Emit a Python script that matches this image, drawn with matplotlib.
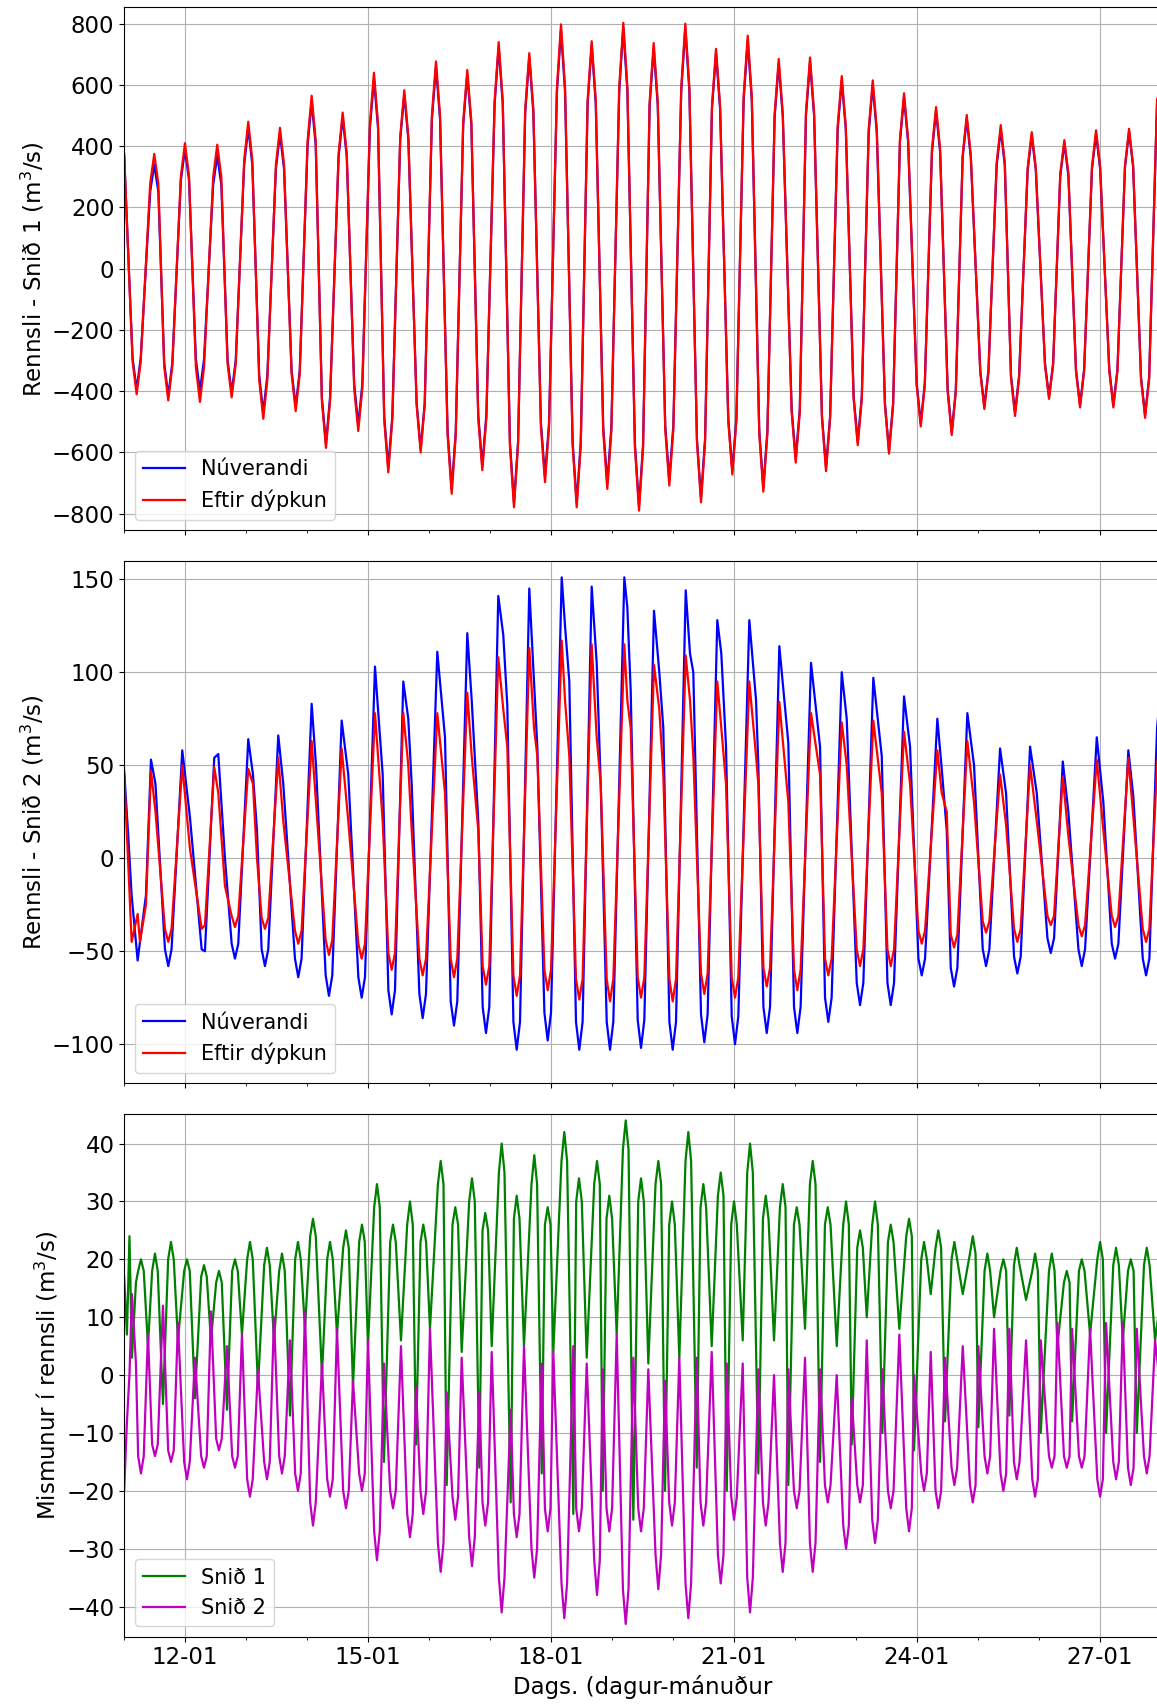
import matplotlib
matplotlib.use("Agg")
import matplotlib.pyplot as plt
import matplotlib.dates as mdates
from matplotlib.ticker import MultipleLocator
import numpy as np
import pandas as pd

matplotlib.rcParams.update({"font.size": 16.5})

t0 = pd.Timestamp("2021-01-11 00:00")

# --- Snið 1: flow, extremes (hours after 11-01 00:00) ---
h1 = [0, 4.92, 11.85, 17.36, 23.93, 29.83, 36.64, 42.31, 48.84, 54.75, 61.32, 67.5,
      73.79, 79.42, 86.0, 92.13, 98.31, 103.94, 110.24, 116.69, 122.71, 128.89, 135.03,
      140.94, 147.39, 153.41, 159.43, 165.61, 171.91, 178.09, 183.99, 190.13, 196.43,
      202.61, 208.39, 214.53, 220.83, 227.01, 232.92, 239.33, 245.39, 251.53, 257.59,
      264.28, 269.91, 276.21, 282.39, 288.68, 294.59, 301.0, 306.9, 313.48, 319.5,
      325.68, 331.58, 338.51, 344.96, 350.59, 357.16, 363.97, 369.99, 376.17, 382.47,
      389.28, 395.46, 401.76, 406.48, 408.44]
snid1_nu = [370, -395, 340, -415, 390, -400, 370, -405, 460, -470, 440, -450,
            545, -570, 495, -510, 620, -650, 570, -590, 660, -720, 635,
            -645, 725, -765, 690, -680, 780, -765, 730, -700, 785,
            -775, 720, -690, 785, -750, 705, -660, 745, -715, 670,
            -620, 675, -650, 615, -565, 600, -595, 560, -505, 515,
            -535, 490, -450, 455, -470, 435, -418, 410, -445, 440,
            -445, 448, -478, 540, 585]
snid1_eftir = [375, -410, 375, -430, 410, -435, 405, -420, 480, -490, 460, -465,
               565, -585, 510, -530, 640, -665, 583, -600, 677, -735, 649,
               -658, 740, -779, 704, -697, 798, -779, 743, -719, 803,
               -790, 737, -708, 800, -763, 718, -672, 761, -728, 685,
               -633, 690, -661, 629, -576, 615, -604, 573, -515, 528,
               -543, 502, -458, 469, -481, 446, -425, 420, -453, 452,
               -453, 457, -487, 553, 600]
# flanks of each peak/trough (rounded crests): times in pairs, one level per crest
h1_flank = [3.32, 6.52, 10.25, 13.45, 15.76, 18.96, 22.33, 25.53, 28.23, 31.43,
            35.04, 38.24, 40.71, 43.91, 47.24, 50.44, 53.15, 56.35, 59.72, 62.92,
            65.9, 69.1, 72.19, 75.39, 77.82, 81.02, 84.4, 87.6, 90.53, 93.73,
            96.71, 99.91, 102.34, 105.54, 108.64, 111.84, 115.09, 118.29, 121.11, 124.31,
            127.29, 130.49, 133.43, 136.63, 139.34, 142.54, 145.79, 148.99, 151.81, 155.01,
            157.83, 161.03, 164.01, 167.21, 170.31, 173.51, 176.49, 179.69, 182.39, 185.59,
            188.53, 191.73, 194.83, 198.03, 201.01, 204.21, 206.79, 209.99, 212.93, 216.13,
            219.23, 222.43, 225.41, 228.61, 231.32, 234.52, 237.73, 240.93, 243.79, 246.99,
            249.93, 253.13, 255.99, 259.19, 262.68, 265.88, 268.31, 271.51, 274.61, 277.81,
            280.79, 283.99, 287.08, 290.28, 292.99, 296.19, 299.4, 302.6, 305.3, 308.5,
            311.88, 315.08, 317.9, 321.1, 324.08, 327.28, 329.98, 333.18, 336.91, 340.11,
            343.36, 346.56, 348.99, 352.19, 355.56, 358.76, 362.37, 365.57, 368.39, 371.59,
            374.57, 377.77, 380.87, 384.07, 387.68, 390.88, 393.86, 397.06, 400.16, 403.36]
snid1_nu_flank = [-292, 252, -307, 289, -296, 274, -300, 340, -348, 326, -333,
                  403, -422, 366, -377, 459, -481, 422, -437, 488, -533, 470,
                  -477, 537, -566, 511, -503, 577, -566, 540, -518, 581,
                  -574, 533, -511, 581, -555, 522, -488, 551, -529, 496,
                  -459, 500, -481, 455, -418, 444, -440, 414, -374, 381,
                  -396, 363, -333, 337, -348, 322, -309, 303, -329, 326,
                  -329, 332, -354]
snid1_eftir_flank = [-303, 278, -318, 303, -322, 300, -311, 355, -363, 340, -344,
                     418, -433, 377, -392, 474, -492, 431, -444, 501, -544, 480,
                     -487, 548, -576, 521, -516, 591, -576, 550, -532, 594,
                     -585, 545, -524, 592, -565, 531, -497, 563, -539, 507,
                     -468, 511, -489, 465, -426, 455, -447, 424, -381, 391,
                     -402, 371, -339, 347, -356, 330, -315, 311, -335, 334,
                     -335, 338, -360]

# --- Snið 2: flow ---
h2 = [0, 1.61, 2.95, 5.31, 6.22, 8.58, 10.55, 12.32, 17.36, 22.87, 25.90, 30.50, 31.80,
      35.46, 37.04, 39.67, 43.61, 48.84, 50.69, 52.27, 55.41, 60.65, 62.62, 68.52, 73.79,
      75.49, 80.60, 85.60, 88.20, 93.47, 98.71, 101.74, 105.28, 109.85, 111.81, 113.15,
      117.48, 123.23, 126.26, 129.80, 135.03, 136.77, 139.36, 142.39, 147.23, 149.20,
      150.78, 154.48, 159.43, 161.29, 162.59, 166.68, 172.19, 173.49, 175.18, 179.11,
      183.99, 185.96, 187.54, 191.20, 196.83, 198.01, 199.34, 203.40, 208.51, 210.60,
      212.17, 215.87, 220.99, 222.68, 223.98, 228.31, 233.42, 235.0, 236.85, 240.39,
      246.02, 248.66, 249.56, 252.87, 257.83, 261.37, 264.91, 270.30, 273.85, 277.11,
      282.39, 284.35, 289.59, 294.82, 298.13, 301.67, 306.90, 309.27, 313.87, 320.01,
      321.74, 323.71, 326.59, 331.82, 334.45, 339.18, 344.69, 347.05, 351.50, 356.50,
      359.13, 364.64, 369.37, 371.57, 376.84, 382.75, 385.34, 389.95, 395.18, 397.15,
      402.15, 406.48, 408.44]
snid2_nu = [47, 12, -20, -55, -45, -20, 53, 40, -58, 58, 22, -49, -50,
            54, 56, 0, -54, 64, 45, 15, -58, 66, 40, -64, 83,
            50, -74, 74, 45, -75, 103, 45, -84, 95, 75, 40,
            -86, 111, 65, -90, 121, 85, 20, -94, 141, 120,
            82, -103, 145, 95, 60, -98, 151, 125, 95, -103,
            146, 105, 40, -103, 151, 135, 90, -102, 133, 100,
            70, -103, 144, 110, 100, -99, 128, 110, 60, -100,
            128, 85, 50, -94, 114, 62, -94, 105, 60, -88,
            100, 75, -79, 97, 55, -79, 87, 60, -63, 75,
            48, 15, -69, 78, 50, -58, 59, 35, -62, 60,
            35, -51, 52, 25, -58, 65, 30, -54, 58, 33,
            -63, 70, 100]
snid2_eftir = [45, -3, -45, -30, -45, -25, 47, 25, -45, 50, 5, -38, -36,
               49, 35, -15, -37, 48, 40, 0, -38, 54, 20, -46, 63,
               30, -52, 59, 20, -54, 78, 20, -60, 78, 50, 15,
               -63, 78, 35, -64, 89, 55, 15, -68, 108, 80,
               60, -74, 113, 70, 55, -71, 117, 85, 55, -76,
               115, 65, 40, -77, 115, 85, 70, -75, 104, 80,
               45, -77, 109, 85, 55, -73, 95, 70, 40, -75,
               95, 55, 40, -69, 84, 30, -71, 78, 45, -63,
               73, 50, -58, 74, 35, -58, 68, 40, -46, 58,
               35, 25, -48, 63, 30, -40, 45, 18, -45, 50,
               20, -36, 44, 12, -42, 53, 15, -37, 54, 22,
               -45, 50, 75]
# flanks of the rounded troughs
h2_flank = [16.06, 18.66, 42.31, 44.91, 54.11, 56.71, 67.22, 69.82, 79.30, 81.90,
            92.17, 94.77, 103.98, 106.58, 116.18, 118.78, 128.50, 131.10, 141.09, 143.69,
            153.18, 155.78, 165.38, 167.98, 177.81, 180.41, 189.90, 192.50, 202.10, 204.70,
            214.57, 217.17, 227.01, 229.61, 239.09, 241.69, 251.57, 254.17, 263.61, 266.21,
            275.81, 278.41, 288.29, 290.89, 300.37, 302.97, 312.57, 315.17, 325.29, 327.89,
            337.88, 340.48, 350.20, 352.80, 363.34, 365.94, 375.54, 378.14, 388.65, 391.25,
            400.85, 403.45]
snid2_nu_flank = [-49, -46, -49, -54, -63, -64, -71, -73, -77, -80, -88, -83, -88, -88,
                  -87, -88, -84, -85, -80, -80, -75, -67, -67, -54, -59, -49, -53, -43,
                  -49, -46, -54]
snid2_eftir_flank = [-38, -31, -32, -39, -44, -46, -51, -54, -54, -58, -63, -60, -65, -65,
                     -64, -65, -62, -64, -59, -60, -54, -49, -49, -39, -41, -34, -38, -31,
                     -36, -31, -38]

# --- difference in flow ---
h3 = [0, 1.10, 2.09, 3.07, 4.64, 6.61, 9.37, 12.12, 15.27, 18.42, 21.17, 24.72, 27.86,
      31.41, 34.16, 37.31, 40.46, 43.61, 46.36, 49.51, 52.66, 56.20, 58.96, 62.11, 65.25,
      68.40, 71.16, 74.31, 77.85, 81.0, 83.75, 87.29, 90.05, 93.59, 95.95, 99.49, 102.25,
      105.79, 108.94, 112.48, 114.84, 117.72, 120.35, 124.57, 126.93, 130.31, 132.83,
      136.88, 139.76, 142.12, 144.64, 148.57, 152.11, 154.48, 157.35, 161.40, 164.32,
      166.68, 168.88, 173.21, 176.75, 178.99, 182.03, 186.08, 188.32, 190.92, 193.83,
      197.38, 200.37, 203.40, 206.27, 210.21, 212.84, 215.60, 218.47, 222.01, 225.32,
      227.92, 231.22, 234.76, 237.13, 240.0, 243.42, 246.30, 249.57, 252.48, 255.74,
      259.17, 261.37, 264.68, 267.94, 270.97, 273.85, 276.88, 280.42, 284.08, 286.32,
      289.59, 292.23, 295.49, 298.37, 301.67, 305.05, 308.87, 310.84, 314.78, 317.41,
      320.40, 323.04, 326.70, 330.01, 333.95, 336.15, 339.69, 342.33, 345.99, 348.35,
      351.26, 354.92, 358.47, 360.71, 365.04, 367.24, 370.94, 373.03, 376.84, 380.11,
      384.05, 386.41, 390.34, 392.98, 396.13, 398.49, 402.43, 405.69, 408.44]
mism_snid1 = [17, 7, 24, 3, 16, 20, 5, 21, -5, 23, 6, 20, -4,
              19, 6, 18, -6, 20, 7, 23, -2, 22, 6, 21, -7,
              23, 8, 27, 0, 23, 7, 25, -2, 26, 5, 33, -15,
              26, 6, 30, -12, 26, 8, 37, -19, 29, 4,
              34, -16, 28, 5, 40, -22, 31, 5, 38, -17,
              29, 4, 42, -24, 34, 3, 37, -20, 31, 7,
              44, -25, 34, 2, 37, -20, 30, 3, 42, -16,
              33, 5, 35, -20, 30, 6, 40, -17, 31, 6,
              33, -19, 29, 8, 37, -15, 29, 5, 30, -12,
              25, 10, 30, -10, 26, 8, 27, -13, 23, 14,
              25, -8, 23, 14, 24, -9, 21, 10, 20, -7,
              22, 13, 21, -10, 21, 5, 18, -8, 20, 7,
              23, -10, 22, 6, 20, -10, 22, 6, 15]
mism_snid2 = [-20, -8, 0, 14, 2, -17, 7, -14, 12, -15, 9, -18, 3,
              -16, 11, -13, 5, -16, 7, -21, 1, -18, 10, -17, 6,
              -20, 11, -26, 2, -21, 8, -23, -1, -20, 6, -32, 2,
              -23, 5, -28, -2, -24, 8, -34, -3, -25, 3,
              -33, -3, -26, 4, -41, -6, -28, 5, -35, 2,
              -27, 4, -42, 5, -27, 2, -38, 1, -27, 7,
              -43, 3, -27, 1, -37, -1, -26, 3, -42, 3,
              -26, 4, -36, 2, -25, 2, -41, 1, -26, 0,
              -34, 1, -23, 3, -34, 1, -22, 0, -30, -4,
              -22, 6, -29, 1, -23, 7, -27, 0, -20, 4,
              -23, 3, -19, 5, -22, 5, -17, 8, -20, 8,
              -18, 6, -21, 6, -16, 9, -16, 8, -16, 8,
              -21, 9, -18, 9, -19, 8, -17, 6, -5]
# flanks of the broad crests (green peaks / magenta troughs)
h3_flank = [5.51, 7.71, 11.02, 13.22, 17.32, 19.52, 23.62, 25.82, 30.31, 32.51,
            36.21, 38.41, 42.51, 44.71, 48.41, 50.61, 55.10, 57.30, 61.01, 63.21,
            67.30, 69.50, 73.21, 75.41, 79.90, 82.10, 86.19, 88.39, 92.49, 94.69,
            98.39, 100.59, 104.69, 106.89, 111.38, 113.58, 116.62, 118.82, 123.47, 125.67,
            129.21, 131.41, 135.78, 137.98, 141.02, 143.22, 147.47, 149.67, 153.38, 155.58,
            160.30, 162.50, 165.58, 167.78, 172.11, 174.31, 177.89, 180.09, 184.98, 187.18,
            189.82, 192.02, 196.28, 198.48, 202.30, 204.50, 209.11, 211.31, 214.50, 216.70,
            220.91, 223.11, 226.82, 229.02, 233.66, 235.86, 238.90, 241.10, 245.20, 247.40,
            251.38, 253.58, 258.07, 260.27, 263.58, 265.78, 269.87, 272.07, 275.78, 277.98,
            282.98, 285.18, 288.49, 290.69, 294.39, 296.59, 300.57, 302.77, 307.77, 309.97,
            313.68, 315.88, 319.30, 321.50, 325.60, 327.80, 332.85, 335.05, 338.59, 340.79,
            344.89, 347.09, 350.16, 352.36, 357.37, 359.57, 363.94, 366.14, 369.84, 372.04,
            375.74, 377.94, 382.95, 385.15, 389.24, 391.44, 395.03, 397.23, 401.33, 403.53]
mism_snid1_flank = [18, 18, 20, 18, 17, 16, 18, 20, 19, 18, 20, 24, 20, 22, 23, 29,
                    23, 26, 23, 33, 26, 30, 25, 35, 27, 33, 26, 37, 30, 33, 27, 39,
                    30, 33, 26, 37, 29, 31, 26, 35, 27, 29, 26, 33, 26, 26, 22, 26,
                    23, 24, 20, 22, 20, 21, 18, 18, 19, 18, 18, 16, 18, 20, 19, 18, 19]
mism_snid2_flank = [-14, -12, -13, -15, -14, -11, -14, -18, -15, -14, -17, -22, -18, -20,
                    -17, -27, -20, -24, -20, -29, -21, -28, -22, -35, -24, -30, -23, -36,
                    -23, -32, -23, -37, -23, -31, -22, -36, -22, -31, -21, -35, -22, -29,
                    -20, -29, -19, -26, -19, -25, -20, -23, -17, -20, -16, -19, -14, -17,
                    -15, -18, -14, -14, -14, -18, -15, -16, -14]


def to_time(hours):
    return t0 + pd.to_timedelta(np.asarray(hours), unit="h")


def with_flanks(h, v, h_flank, v_flank):
    # crest levels hold for the flank on both sides of the crest
    t = np.concatenate([h, h_flank])
    y = np.concatenate([v, np.repeat(v_flank, 2)])
    order = np.argsort(t, kind="stable")
    return to_time(t[order]), y[order]


fig = plt.figure(figsize=(11.57, 17.04), dpi=100)
ax1 = fig.add_axes([0.1073, 0.6890, 0.8961, 0.3066])
ax2 = fig.add_axes([0.1073, 0.3643, 0.8961, 0.3067], sharex=ax1)
ax3 = fig.add_axes([0.1073, 0.0395, 0.8961, 0.3067], sharex=ax1)

ax1.plot(*with_flanks(h1, snid1_nu, h1_flank, snid1_nu_flank), color="b", lw=1.6, label="Núverandi")
ax1.plot(*with_flanks(h1, snid1_eftir, h1_flank, snid1_eftir_flank), color="r", lw=1.6, label="Eftir dýpkun")
ax1.set_ylabel("Rennsli - Snið 1 (m$^3$/s)")
ax1.set_ylim(-853, 853)

ax2.plot(*with_flanks(h2, snid2_nu, h2_flank, snid2_nu_flank), color="b", lw=1.6, label="Núverandi")
ax2.plot(*with_flanks(h2, snid2_eftir, h2_flank, snid2_eftir_flank), color="r", lw=1.6, label="Eftir dýpkun")
ax2.set_ylabel("Rennsli - Snið 2 (m$^3$/s)")
ax2.set_ylim(-121, 160)

ax3.plot(*with_flanks(h3, mism_snid1, h3_flank, mism_snid1_flank), color="g", lw=1.6, label="Snið 1")
ax3.plot(*with_flanks(h3, mism_snid2, h3_flank, mism_snid2_flank), color="m", lw=1.6, label="Snið 2")
ax3.set_ylabel("Mismunur í rennsli (m$^3$/s)")
ax3.set_ylim(-45.2, 45.1)
ax3.yaxis.set_major_locator(MultipleLocator(10))
ax3.set_xlabel("Dags. (dagur-mánuður")

ax1.set_xlim(t0, t0 + pd.Timedelta(days=17))
ax3.xaxis.set_major_locator(mdates.DayLocator(bymonthday=range(12, 31, 3)))
ax3.xaxis.set_minor_locator(mdates.DayLocator())
ax3.xaxis.set_major_formatter(mdates.DateFormatter("%d-%m"))

for ax in (ax1, ax2, ax3):
    ax.grid(True)
    ax.legend(loc="lower left", fontsize=15)
for ax in (ax1, ax2):
    ax.tick_params(labelbottom=False)

plt.savefig("out.png", dpi=100)
